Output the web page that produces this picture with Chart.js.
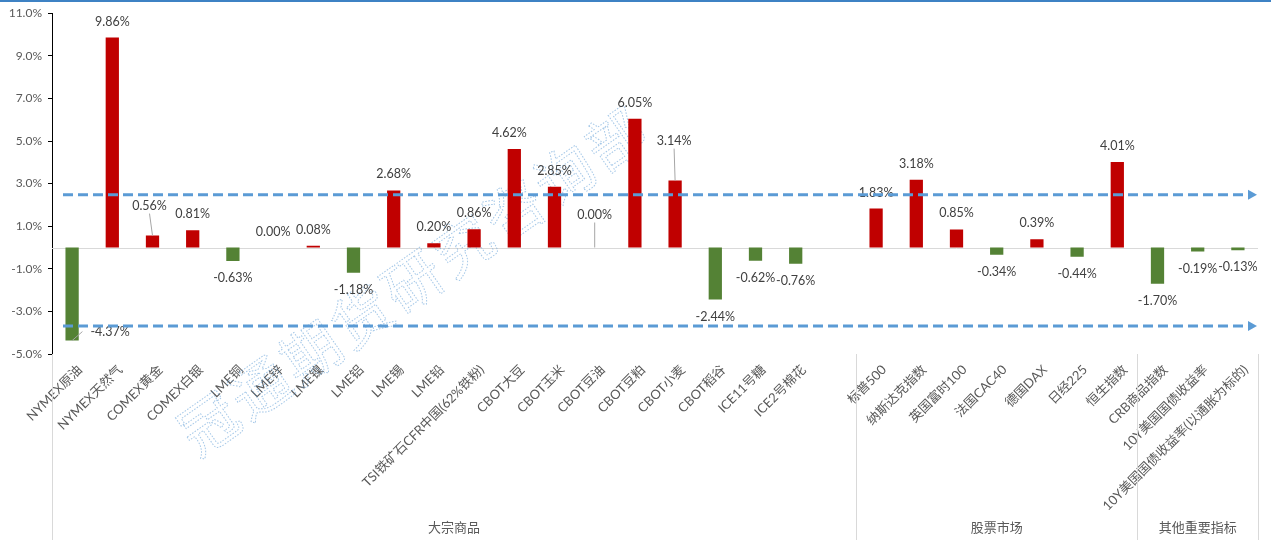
<!DOCTYPE html>
<html>
<head>
<meta charset="utf-8">
<script src="https://cdn.jsdelivr.net/npm/chart.js@4.4.1/dist/chart.umd.min.js"></script>
<style>
  body { margin: 0; background: #fff; }
  canvas { display: block; }
</style>
</head>
<body>
<canvas id="myChart" width="1271" height="540"></canvas>
<script>
// categories (one empty slot before the stock group, like the source sheet)
const categories = [
    "NYMEX原油", "NYMEX天然气", "COMEX黄金", "COMEX白银", "LME铜", "LME锌", "LME镍", "LME铝", "LME锡", "LME铅",
    "TSI铁矿石CFR中国(62%铁粉)", "CBOT大豆", "CBOT玉米", "CBOT豆油", "CBOT豆粕", "CBOT小麦", "CBOT稻谷", "ICE11号糖", "ICE2号棉花", "",
    "标普500", "纳斯达克指数", "英国富时100", "法国CAC40", "德国DAX", "日经225", "恒生指数",
    "CRB商品指数", "10Y美国国债收益率", "10Y美国国债收益率(以通胀为标的)"
];
const changes = [
    -4.37, 9.86, 0.56, 0.81, -0.63, 0.00, 0.08, -1.18, 2.68, 0.20,
    0.86, 4.62, 2.85, 0.00, 6.05, 3.14, -2.44, -0.62, -0.76, null,
    1.83, 3.18, 0.85, -0.34, 0.39, -0.44, 4.01,
    -1.70, -0.19, -0.13
];
const groupNames = ["大宗商品", "股票市场", "其他重要指标"];
const groupSizes = [20, 7, 3];
const yTicks = [-5, -3, -1, 1, 3, 5, 7, 9, 11];
const arrowLevels = [2.48, -3.69];   // the two dashed reference arrows
const watermark = "冠通期货研究咨询部";

// labels that were moved by hand in the original (dx, dy in px, leader line)
const labelNudge = {
    0: { dx: 38, dy: -26, leader: true },
    2: { dx: -3, dy: -14, leader: true },
    11: { dx: -5, dy: 0 },
    13: { dx: 0, dy: -17, leader: true },
    15: { dx: -1, dy: -24, leader: true }
};

const LAT = "Lato, 'Noto Sans CJK SC', sans-serif";
const CJK = "'Noto Sans CJK SC', Lato, sans-serif";

const extras = {
    id: "extras",
    beforeDatasetsDraw(chart) {
        const ctx = chart.ctx;
        const area = chart.chartArea;
        const x = chart.scales.x;
        const y = chart.scales.y;
        ctx.save();

        // zero line
        const y0 = Math.round(y.getPixelForValue(0)) + 0.5;
        ctx.strokeStyle = "#d9d9d9";
        ctx.lineWidth = 1;
        ctx.beginPath();
        ctx.moveTo(area.left, y0);
        ctx.lineTo(area.right, y0);
        ctx.stroke();

        // group separators below the axis + group titles
        const step = x.getPixelForValue(1) - x.getPixelForValue(0);
        let start = 0;
        ctx.font = "13px " + CJK;
        ctx.fillStyle = "#595959";
        ctx.textAlign = "center";
        ctx.textBaseline = "middle";
        const sep = (px) => {
            ctx.beginPath();
            ctx.moveTo(Math.round(px) + 0.5, area.bottom);
            ctx.lineTo(Math.round(px) + 0.5, chart.height);
            ctx.stroke();
        };
        sep(x.getPixelForValue(0) - step / 2);
        groupSizes.forEach((n, g) => {
            const left = x.getPixelForValue(start) - step / 2;
            const right = x.getPixelForValue(start + n - 1) + step / 2;
            sep(right);
            ctx.fillText(groupNames[g], (left + right) / 2, 527);
            start += n;
        });

        // watermark
        ctx.translate(414, 280);
        ctx.rotate(-35 * Math.PI / 180);
        ctx.font = "58px " + CJK;
        ctx.textAlign = "center";
        ctx.setLineDash([1.5, 1.5]);
        ctx.strokeStyle = "rgba(91,155,213,0.55)";
        ctx.lineWidth = 1;
        if ("letterSpacing" in ctx) ctx.letterSpacing = "4px";
        ctx.strokeText(watermark, 0, 0);
        ctx.restore();
    },
    afterDatasetsDraw(chart) {
        const ctx = chart.ctx;
        const meta = chart.getDatasetMeta(0);
        const area = chart.chartArea;
        const y = chart.scales.y;
        ctx.save();
        ctx.font = "12.5px " + LAT;
        ctx.textAlign = "center";
        ctx.textBaseline = "middle";

        changes.forEach((v, i) => {
            if (v === null) return;
            const bar = meta.data[i];
            const text = v.toFixed(2) + "%";
            const nudge = labelNudge[i] || { dx: 0, dy: 0 };
            const lx = bar.x + nudge.dx;
            const ly = (v >= 0 ? bar.y - 16 : bar.y + 17) + nudge.dy;
            if (nudge.leader) {
                const w = ctx.measureText(text).width;
                let tx, ty;
                if (Math.abs(nudge.dx) > w / 2) {
                    // label sits beside the bar
                    tx = lx - Math.sign(nudge.dx) * (w / 2 + 8);
                    ty = ly;
                } else {
                    tx = lx;
                    ty = ly + (bar.y > ly ? 8 : -8);
                }
                ctx.strokeStyle = "#a6a6a6";
                ctx.lineWidth = 1;
                ctx.beginPath();
                ctx.moveTo(bar.x, bar.y);
                ctx.lineTo(tx, ty);
                ctx.stroke();
            }
            ctx.fillStyle = "#404040";
            ctx.fillText(text, lx, ly);
        });

        // dashed arrows
        ctx.strokeStyle = "#5b9bd5";
        ctx.fillStyle = "#5b9bd5";
        ctx.lineWidth = 3;
        arrowLevels.forEach(level => {
            const py = y.getPixelForValue(level);
            const x1 = area.right - 10;
            ctx.setLineDash([10, 5]);
            ctx.beginPath();
            ctx.moveTo(area.left + 11, py);
            ctx.lineTo(x1, py);
            ctx.stroke();
            ctx.setLineDash([]);
            ctx.beginPath();
            ctx.moveTo(x1, py - 5);
            ctx.lineTo(x1 + 9, py);
            ctx.lineTo(x1, py + 5);
            ctx.closePath();
            ctx.fill();
        });
        ctx.restore();
    },
    afterDraw(chart) {
        const ctx = chart.ctx;
        ctx.save();
        ctx.fillStyle = "#3e82c4";
        ctx.fillRect(0, 0, chart.width, 2);
        ctx.restore();
    }
};

const ctx = document.getElementById("myChart").getContext("2d");
const myChart = new Chart(ctx, {
    type: "bar",
    data: {
        labels: categories,
        datasets: [{
            label: "涨跌幅",
            data: changes,
            backgroundColor: changes.map(v => (v !== null && v < 0) ? "#548235" : "#c00000"),
            barPercentage: 0.33,
            categoryPercentage: 1.0
        }]
    },
    options: {
        responsive: false,
        animation: false,
        devicePixelRatio: 1,
        layout: { padding: { top: 12, right: 13, left: 0, bottom: 0 } },
        plugins: {
            legend: { display: false },
            tooltip: { enabled: false }
        },
        scales: {
            x: {
                grid: { display: false, drawTicks: false },
                border: { display: false },
                ticks: {
                    autoSkip: false,
                    minRotation: 45,
                    maxRotation: 45,
                    padding: 8,
                    labelOffset: 8,
                    color: "#595959",
                    font: { size: 13, family: LAT }
                },
                afterFit(scale) { scale.height = 186; }
            },
            y: {
                min: -5,
                max: 11,
                afterBuildTicks(scale) { scale.ticks = yTicks.map(v => ({ value: v })); },
                grid: { drawOnChartArea: false, drawTicks: true, tickLength: 4, color: "#000" },
                border: { display: true, color: "#000" },
                ticks: {
                    padding: 6,
                    color: "#595959",
                    font: { size: 12, family: LAT },
                    callback: v => v.toFixed(1) + "%"
                },
                afterFit(scale) { scale.width = 52; }
            }
        }
    },
    plugins: [extras]
});
</script>
</body>
</html>
